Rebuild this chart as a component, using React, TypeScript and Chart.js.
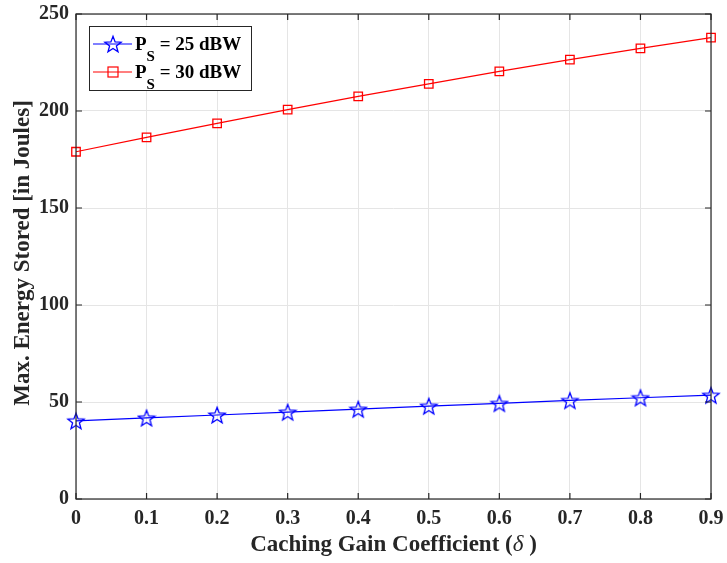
import React, { useEffect, useRef } from "react";
import { Chart, registerables } from "chart.js";
Chart.register(...registerables);

const xValues = [0, 0.1, 0.2, 0.3, 0.4, 0.5, 0.6, 0.7, 0.8, 0.9];
const xTickLabels = ["0", "0.1", "0.2", "0.3", "0.4", "0.5", "0.6", "0.7", "0.8", "0.9"];
const yTickValues = [0, 50, 100, 150, 200, 250];
const ps25Energy = [40.3, 41.8, 43.3, 44.8, 46.3, 47.9, 49.3, 50.8, 52.2, 53.5];
const ps30Energy = [179.0, 186.4, 193.6, 200.7, 207.5, 214.0, 220.4, 226.5, 232.3, 237.8];
const seriesPower = ["25 dBW", "30 dBW"];
const xTitle = "Caching Gain Coefficient (";
const xTitleSymbol = "δ";
const yTitle = "Max. Energy Stored [in Joules]";

const FONT = '"Liberation Serif", "Times New Roman", serif';
const BLUE = "#0000ff";
const RED = "#ff0000";

function makeStar(color: string, size: number, ro: number) {
  const c = document.createElement("canvas");
  c.width = size;
  c.height = size;
  const ctx = c.getContext("2d")!;
  const cx = size / 2, cy = size / 2 + ro * 0.1;
  const ri = ro * 0.42;
  ctx.beginPath();
  for (let i = 0; i < 10; i++) {
    const r = i % 2 === 0 ? ro : ri;
    const a = -Math.PI / 2 + (i * Math.PI) / 5;
    const px = cx + r * Math.cos(a), py = cy + r * Math.sin(a);
    if (i === 0) ctx.moveTo(px, py); else ctx.lineTo(px, py);
  }
  ctx.closePath();
  ctx.strokeStyle = color;
  ctx.lineWidth = 1.3;
  ctx.stroke();
  return c;
}

const framePlugin = {
  id: "matlabFrame",
  afterDraw(chart: any) {
    const { ctx, chartArea: a, scales } = chart;
    const xs = scales.x, ys = scales.y;
    ctx.save();
    ctx.strokeStyle = "#262626";
    ctx.lineWidth = 1.2;
    ctx.strokeRect(a.left, a.top, a.right - a.left, a.bottom - a.top);
    const tl = 6;
    ctx.beginPath();
    xValues.forEach((v) => {
      const px = xs.getPixelForValue(v);
      ctx.moveTo(px, a.bottom); ctx.lineTo(px, a.bottom - tl);
      ctx.moveTo(px, a.top); ctx.lineTo(px, a.top + tl);
    });
    yTickValues.forEach((v) => {
      const py = ys.getPixelForValue(v);
      ctx.moveTo(a.left, py); ctx.lineTo(a.left + tl, py);
      ctx.moveTo(a.right, py); ctx.lineTo(a.right - tl, py);
    });
    ctx.stroke();

    ctx.fillStyle = "#262626";
    ctx.textBaseline = "middle";
    const boldF = `bold 23px ${FONT}`;
    const italF = `italic 23px ${FONT}`;
    ctx.font = boldF;
    const w1 = ctx.measureText(xTitle).width;
    ctx.font = italF;
    const w2 = ctx.measureText(xTitleSymbol).width;
    ctx.font = boldF;
    const w3 = ctx.measureText(" )").width;
    const total = w1 + w2 + w3;
    const sx = (a.left + a.right) / 2 - total / 2;
    const ty = 545;
    ctx.textAlign = "left";
    ctx.fillText(xTitle, sx, ty);
    ctx.font = italF;
    ctx.fillText(xTitleSymbol, sx + w1, ty);
    ctx.font = boldF;
    ctx.fillText(" )", sx + w1 + w2, ty);

    ctx.save();
    ctx.translate(23, 253);
    ctx.rotate(-Math.PI / 2);
    ctx.textAlign = "center";
    ctx.font = boldF;
    ctx.fillText(yTitle, 0, 0);
    ctx.restore();

    const lx = 89, ly = 26, lw = 162, lh = 64;
    ctx.fillStyle = "#ffffff";
    ctx.fillRect(lx, ly, lw, lh);
    ctx.strokeStyle = "#262626";
    ctx.lineWidth = 1;
    ctx.strokeRect(lx + 0.5, ly + 0.5, lw, lh);
    const rows = [44, 72];
    chart.data.datasets.forEach((ds: any, i: number) => {
      const ry = rows[i];
      ctx.strokeStyle = ds.borderColor;
      ctx.lineWidth = 1.2;
      ctx.beginPath();
      ctx.moveTo(lx + 4, ry);
      ctx.lineTo(lx + 43, ry);
      ctx.stroke();
      if (i === 0) {
        const img = ds.pointStyle as HTMLCanvasElement;
        ctx.drawImage(img, lx + 24 - img.width / 2, ry - img.height / 2);
      } else {
        ctx.strokeRect(lx + 24 - 5, ry - 5, 10, 10);
      }
      ctx.fillStyle = "#000000";
      ctx.textAlign = "left";
      ctx.textBaseline = "alphabetic";
      ctx.font = `bold 19px ${FONT}`;
      let tx = lx + 46;
      ctx.fillText("P", tx, ry + 6);
      tx += ctx.measureText("P").width;
      ctx.font = `bold 15px ${FONT}`;
      ctx.fillText("S", tx, ry + 17);
      tx += ctx.measureText("S").width;
      ctx.font = `bold 19px ${FONT}`;
      ctx.fillText(" = " + seriesPower[i], tx, ry + 6);
    });
    ctx.restore();
  },
};

export default function App() {
  const ref = useRef<HTMLCanvasElement>(null);
  useEffect(() => {
    document.body.style.margin = "0";
    const star = makeStar(BLUE, 20, 8.5);
    const chart = new Chart(ref.current!, {
      type: "line",
      data: {
        datasets: [
          {
            label: "P_S = " + seriesPower[0],
            data: xValues.map((x, i) => ({ x, y: ps25Energy[i] })),
            borderColor: BLUE,
            borderWidth: 1.2,
            pointStyle: star as any,
            backgroundColor: "transparent",
          },
          {
            label: "P_S = " + seriesPower[1],
            data: xValues.map((x, i) => ({ x, y: ps30Energy[i] })),
            borderColor: RED,
            borderWidth: 1.2,
            pointStyle: "rect",
            pointRadius: 6,
            pointBorderWidth: 1.3,
            backgroundColor: "transparent",
          },
        ],
      },
      options: {
        responsive: false,
        animation: false,
        clip: false as any,
        layout: { padding: { top: 14, right: 16, left: 0, bottom: 0 } },
        plugins: { legend: { display: false }, tooltip: { enabled: false } },
        scales: {
          x: {
            type: "linear",
            min: 0,
            max: 0.9,
            afterBuildTicks: (s: any) => { s.ticks = xValues.map((v) => ({ value: v })); },
            afterFit: (s: any) => { s.height = 64; s.paddingLeft = 0; s.paddingRight = 0; },
            grid: { color: "#e5e5e5", drawTicks: false },
            border: { display: false },
            ticks: {
              padding: 8,
              color: "#262626",
              font: { family: FONT, size: 20, weight: "bold" },
              callback: (v: any) => {
                const i = xValues.findIndex((x) => Math.abs(x - v) < 1e-6);
                return i >= 0 ? xTickLabels[i] : "";
              },
              maxRotation: 0,
            },
          },
          y: {
            type: "linear",
            min: 0,
            max: 250,
            afterBuildTicks: (s: any) => { s.ticks = yTickValues.map((v) => ({ value: v })); },
            afterFit: (s: any) => { s.width = 76; s.paddingTop = 0; s.paddingBottom = 0; },
            grid: { color: "#e5e5e5", drawTicks: false },
            border: { display: false },
            ticks: {
              padding: 7,
              color: "#262626",
              font: { family: FONT, size: 20, weight: "bold" },
            },
          },
        },
      },
      plugins: [framePlugin],
    });
    return () => chart.destroy();
  }, []);
  return (
    <div style={{ position: "absolute", left: 0, top: 0, width: 727, height: 563, background: "#fff" }}>
      <canvas ref={ref} width={727} height={563} />
    </div>
  );
}
